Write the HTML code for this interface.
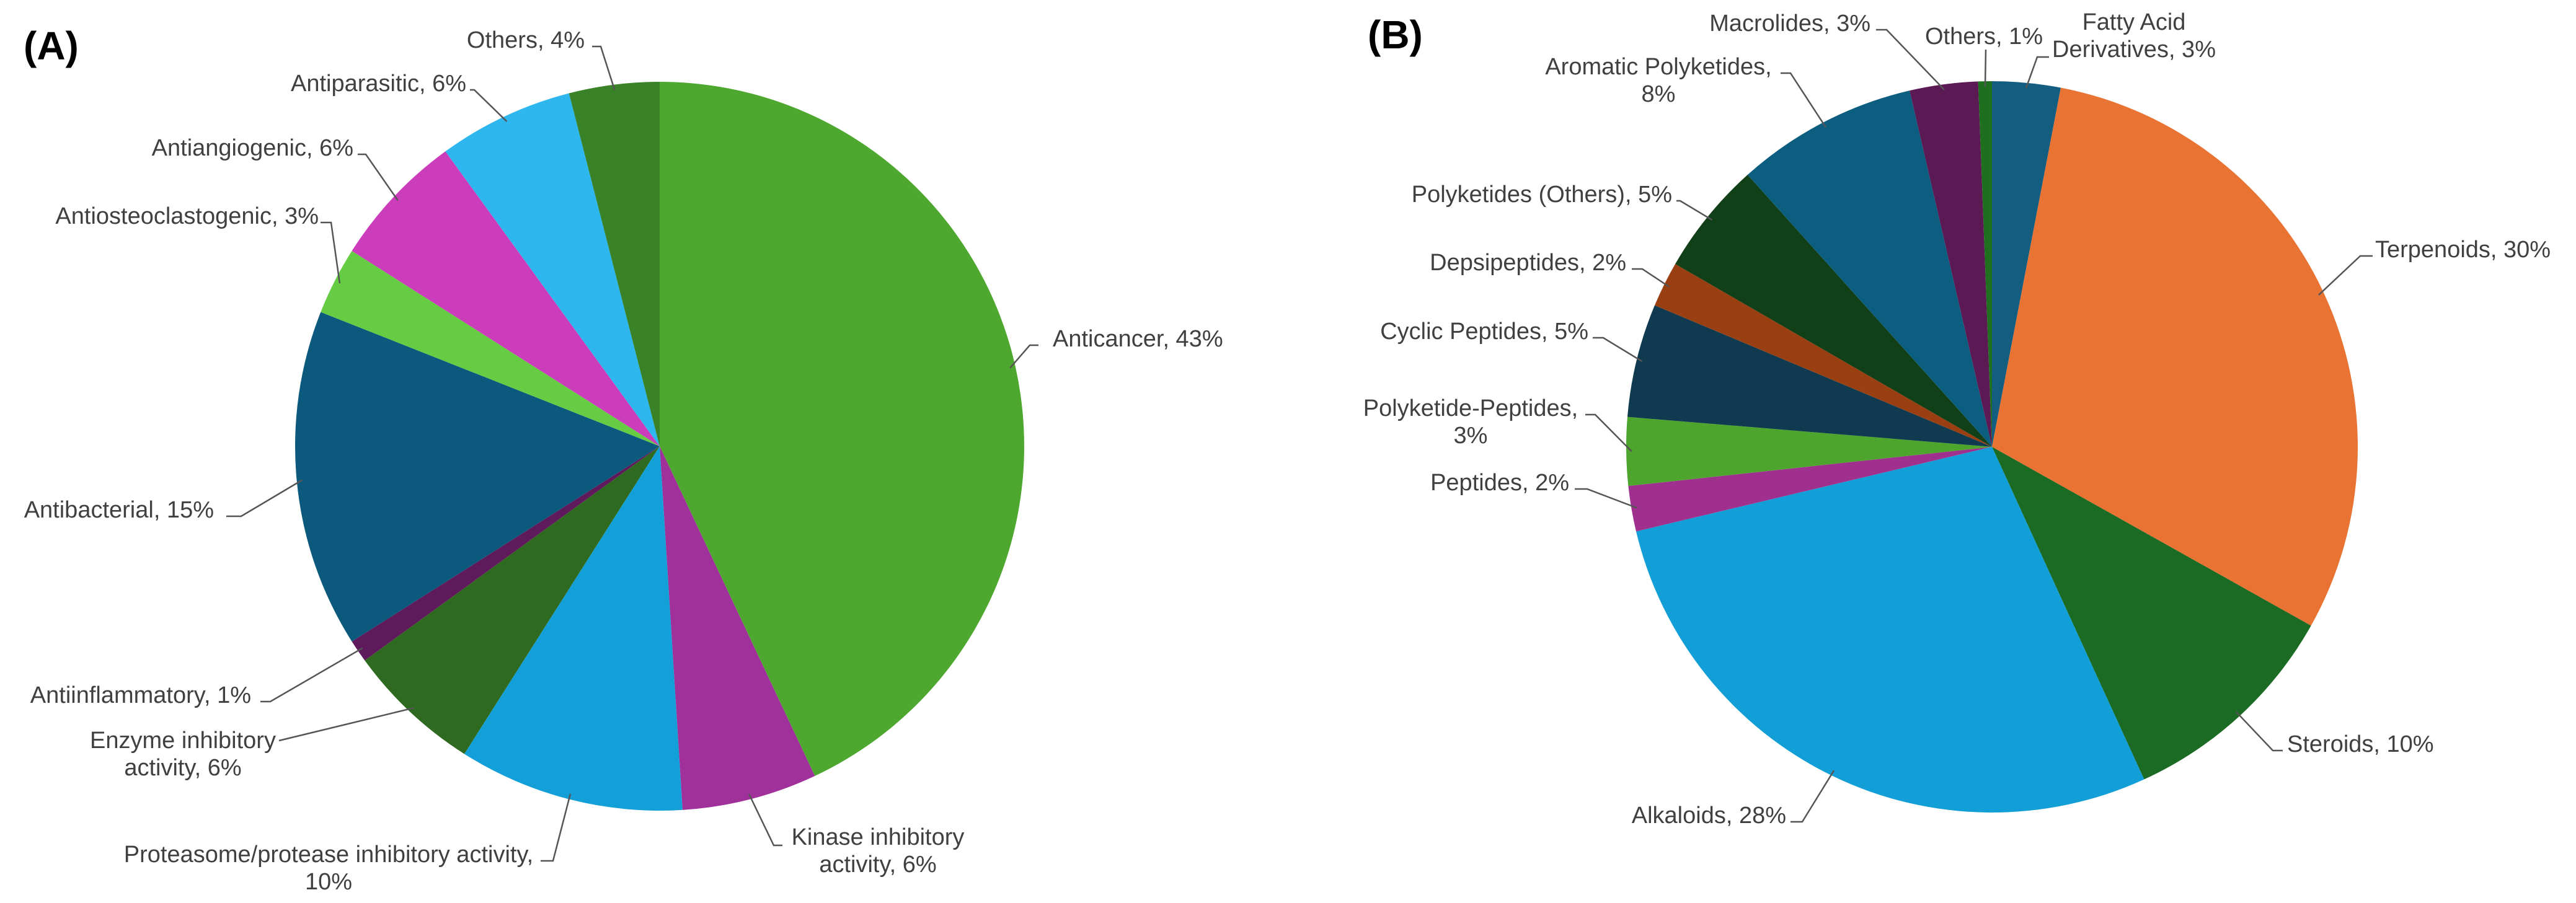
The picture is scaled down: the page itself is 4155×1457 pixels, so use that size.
<!DOCTYPE html>
<html><head><meta charset="utf-8">
<style>
html,body{margin:0;padding:0;background:#fff;}
svg{display:block;}
text{font-family:"Liberation Sans",Arial,sans-serif;fill:#404040;}
</style></head>
<body>
<svg id="chart" width="4155" height="1457" viewBox="0 0 4155 1457">
<rect x="0" y="0" width="4155" height="1457" fill="#fff"/>
<text x="38" y="96" font-size="64" font-weight="bold" style="fill:#000">(A)</text>
<text x="2206" y="78" font-size="64" font-weight="bold" style="fill:#000">(B)</text>
<g id="pieA"></g>
<g id="pieB"></g>
</svg>
<script>
// Panel A data
const catsA = ["Anticancer","Kinase inhibitory activity","Proteasome/protease inhibitory activity","Enzyme inhibitory activity","Antiinflammatory","Antibacterial","Antiosteoclastogenic","Antiangiogenic","Antiparasitic","Others"];
const valsA = [43,6,10,6,1,15,3,6,6,4];
const colorsA = ["#4ea72e","#a0309a","#139fd8","#2e6a1f","#5e1a5a","#0b5a7e","#66cc44","#cc3dbb","#2eb6ee","#3a8227"];
// Panel B data
const catsB = ["Fatty Acid Derivatives","Terpenoids","Steroids","Alkaloids","Peptides","Polyketide-Peptides","Cyclic Peptides","Depsipeptides","Polyketides (Others)","Aromatic Polyketides","Macrolides","Others"];
const valsB = [3,30,10,28,2,3,5,2,5,8,3,0.6];
const printedB = [3,30,10,28,2,3,5,2,5,8,3,1];
const colorsB = ["#125d80","#e87333","#1c6b25","#129fd7","#a0308e","#4da52e","#0f3a50","#993f12","#113f17","#0b5e80","#5c1a55","#1e6f1e"];

// label layout (pixel placement only)
const layoutA = [
 {lines:["Anticancer, 43%"],x:1698,y:546,a:"start",lx:[1675,1661]},
 {lines:["Kinase inhibitory","activity, 6%"],x:1416,y:1350,a:"middle",lx:[1262,1248],ly:1364},
 {lines:["Proteasome/protease inhibitory activity,","10%"],x:530,y:1378,a:"middle",lx:[872,892]},
 {lines:["Enzyme inhibitory","activity, 6%"],x:295,y:1194,a:"middle",lx:[450,450],ly:1195},
 {lines:["Antiinflammatory, 1%"],x:405,y:1121,a:"end",lx:[420,436]},
 {lines:["Antibacterial, 15%"],x:345,y:822,a:"end",lx:[365,389]},
 {lines:["Antiosteoclastogenic, 3%"],x:514,y:348,a:"end",lx:[517,534]},
 {lines:["Antiangiogenic, 6%"],x:570,y:238,a:"end",lx:[577,590]},
 {lines:["Antiparasitic, 6%"],x:752,y:134,a:"end",lx:[758,765]},
 {lines:["Others, 4%"],x:943,y:64,a:"end",lx:[955,969]}
];
const layoutB = [
 {lines:["Fatty Acid","Derivatives, 3%"],x:3442,y:35,a:"middle",lx:[3305,3286],ly:92},
 {lines:["Terpenoids, 30%"],x:3831,y:402,a:"start",lx:[3827,3807]},
 {lines:["Steroids, 10%"],x:3689,y:1200,a:"start",lx:[3682,3666]},
 {lines:["Alkaloids, 28%"],x:2881,y:1315,a:"end",lx:[2888,2907]},
 {lines:["Peptides, 2%"],x:2531,y:778,a:"end",lx:[2540,2560]},
 {lines:["Polyketide-Peptides,","3%"],x:2372,y:658,a:"middle",lx:[2557,2573]},
 {lines:["Cyclic Peptides, 5%"],x:2562,y:534,a:"end",lx:[2569,2586]},
 {lines:["Depsipeptides, 2%"],x:2623,y:423,a:"end",lx:[2632,2649]},
 {lines:["Polyketides (Others), 5%"],x:2697,y:313,a:"end",lx:[2704,2710]},
 {lines:["Aromatic Polyketides,","8%"],x:2675,y:107,a:"middle",lx:[2872,2888]},
 {lines:["Macrolides, 3%"],x:3017,y:37,a:"end",lx:[3026,3043]},
 {lines:["Others, 1%"],x:3200,y:58,a:"middle",lx:[3203,3203],ly:80}
];
const NS="http://www.w3.org/2000/svg";
function drawPie(gid,cx,cy,r,cats,vals,colors,layout,prefix){
  const g=document.getElementById(gid);
  const total=vals.reduce((s,v)=>s+v,0);
  let acc=0;
  const pt=(ang,rad)=>[cx+rad*Math.sin(ang),cy-rad*Math.cos(ang)];
  vals.forEach((v,i)=>{
    const a0=acc/total*2*Math.PI; acc+=v; const a1=acc/total*2*Math.PI;
    const p0=pt(a0,r),p1=pt(a1,r);
    const large=(a1-a0)>Math.PI?1:0;
    const p=document.createElementNS(NS,"path");
    p.setAttribute("d",`M${cx},${cy} L${p0[0]},${p0[1]} A${r},${r} 0 ${large} 1 ${p1[0]},${p1[1]} Z`);
    p.setAttribute("fill",colors[i]);
    
    
    g.appendChild(p);
    const L=layout[i]; const mid=(a0+a1)/2; const e=pt(mid,r*0.985);
    const ly=(L.ly!==undefined)?L.ly:L.y+11;
    const ln=document.createElementNS(NS,"polyline");
    ln.setAttribute("points",`${L.lx[0]},${ly} ${L.lx[1]},${ly} ${e[0]},${e[1]}`);
    ln.setAttribute("fill","none");ln.setAttribute("stroke","#555");ln.setAttribute("stroke-width","2.5");
    
    
    g.appendChild(ln);
    const t=document.createElementNS(NS,"text");
    t.setAttribute("text-anchor",L.a);t.setAttribute("font-size","38");
    
    
    L.lines.forEach((s,k)=>{
      const ts=document.createElementNS(NS,"tspan");
      ts.setAttribute("x",L.x);ts.setAttribute("y",L.y+13+k*44);
      ts.textContent=s;t.appendChild(ts);
    });
    g.appendChild(t);
  });
}
drawPie("pieA",1064,720,588,catsA,valsA,colorsA,layoutA,"a");
drawPie("pieB",3213,721,590,catsB,valsB,colorsB,layoutB,"b");
</script>
</body></html>
